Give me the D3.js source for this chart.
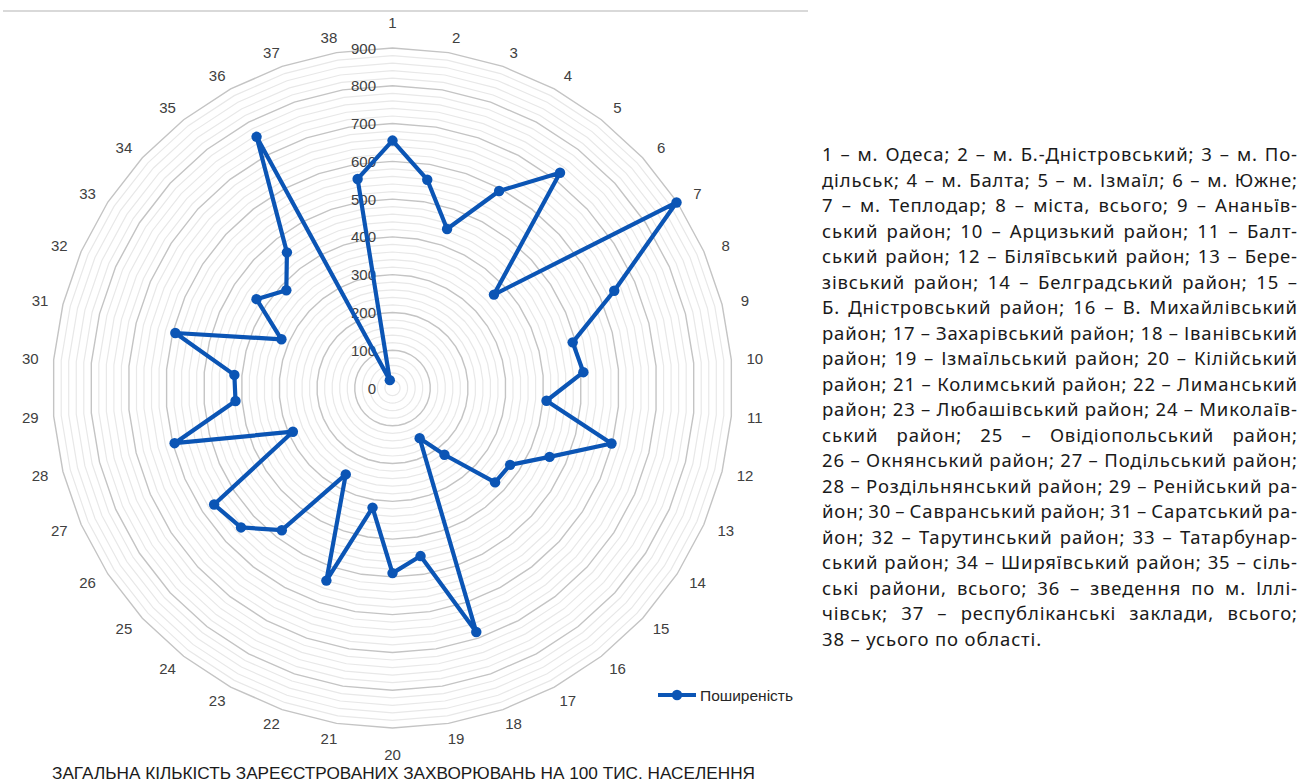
<!DOCTYPE html>
<html><head><meta charset="utf-8">
<script src="https://cdn.jsdelivr.net/npm/d3@7"></script>
<style>body{margin:0;background:#fff} svg{display:block}</style>
</head><body>
<svg id="c" width="1303" height="782"></svg>
<script>
const categories = ["1","2","3","4","5","6","7","8","9","10","11","12","13","14","15","16","17","18","19","20","21","22","23","24","25","26","27","28","29","30","31","32","33","34","35","36","37","38"];
const values = [655,559,445,593,722,365,898,641,492,507,409,598,454,372,369,224,151,683,451,490,321,539,260,477,545,564,288,595,417,420,593,321,430,382,455,756,22,561];
const seriesName = "Поширеність";
const tickValues = [0,100,200,300,400,500,600,700,800,900];
const minorStep = 20;
const chartTitle = "ЗАГАЛЬНА КІЛЬКІСТЬ ЗАРЕЄСТРОВАНИХ ЗАХВОРЮВАНЬ НА 100 ТИС. НАСЕЛЕННЯ";
const noteLines = [
"1 – м. Одеса; 2 – м. Б.-Дністровський; 3 – м. По-",
"дільськ; 4 – м. Балта; 5 – м. Ізмаїл; 6 – м. Южне;",
"7 – м. Теплодар; 8 – міста, всього; 9 – Ананьїв-",
"ський район; 10 – Арцизький район; 11 – Балт-",
"ський район; 12 – Біляївський район; 13 – Бере-",
"зівський район; 14 – Белградський район; 15 –",
"Б. Дністровський район; 16 – В. Михайлівський",
"район; 17 – Захарівський район; 18 – Іванівський",
"район; 19 – Ізмаїльський район; 20 – Кілійський",
"район; 21 – Колимський район; 22 – Лиманський",
"район; 23 – Любашівський район; 24 – Миколаїв-",
"ський район; 25 – Овідіопольський район;",
"26 – Окнянський район; 27 – Подільський район;",
"28 – Роздільнянський район; 29 – Ренійський ра-",
"йон; 30 – Савранський район; 31 – Саратський ра-",
"йон; 32 – Тарутинський район; 33 – Татарбунар-",
"ський район; 34 – Ширяївський район; 35 – сіль-",
"ські райони, всього; 36 – зведення по м. Іллі-",
"чівськ; 37 – республіканські заклади, всього;",
"38 – усього по області."
];

const svg = d3.select("#c");
const cx = 392.5, cy = 388, R = 340;
const rScale = d3.scaleLinear().domain([0, 900]).range([0, R]);
const aScale = d3.scaleLinear().domain([0, categories.length]).range([0, 2 * Math.PI]);

// top border line
svg.append("line").attr("x1", 3).attr("x2", 808).attr("y1", 11).attr("y2", 11)
  .attr("stroke", "#d9d9d9").attr("stroke-width", 2);

const g = svg.append("g").attr("transform", `translate(${cx},${cy})`);

// grid rings
const ringVals = d3.range(minorStep, 900 + 1, minorStep);
const ringLine = d3.lineRadial().curve(d3.curveLinearClosed)
  .angle((d, i) => aScale(i)).radius(d => rScale(d));
ringVals.filter(v => v % 100 !== 0).forEach(v => {
  g.append("path").attr("d", ringLine(categories.map(() => v)))
    .attr("fill", "none").attr("stroke", "#e8e8e8").attr("stroke-width", 1.2);
});
ringVals.filter(v => v % 100 === 0).forEach(v => {
  g.append("path").attr("d", ringLine(categories.map(() => v)))
    .attr("fill", "none").attr("stroke", "#c4c4c4").attr("stroke-width", 1.4);
});

// tick labels
g.selectAll("text.tick").data(tickValues).join("text")
  .attr("class", "tick")
  .attr("x", -16.5).attr("y", d => -rScale(d))
  .attr("text-anchor", "end").attr("dominant-baseline", "central")
  .attr("font-family", "Liberation Sans, Arial, sans-serif").attr("font-size", 15)
  .attr("fill", "#404040").text(d => d);

// category labels (box anchored outward from the outer ring)
const sgn = v => Math.abs(v) < 1e-6 ? 0 : Math.sign(v);
g.selectAll("text.cat").data(categories).join("text")
  .attr("class", "cat")
  .attr("x", (d, i) => { const s = Math.sin(aScale(i)); return (R + 19) * s + 4.5 * sgn(s); })
  .attr("y", (d, i) => { const s = Math.sin(aScale(i)), c = Math.cos(aScale(i));
      return -(sgn(s) === 0 ? (R + 26) * c : (R + 15) * c); })
  .attr("text-anchor", "middle").attr("dominant-baseline", "central")
  .attr("font-family", "Liberation Sans, Arial, sans-serif").attr("font-size", 15)
  .attr("fill", "#404040").text(d => d);

// series
const color = "#0b55b5";
const seriesLine = d3.lineRadial().curve(d3.curveLinearClosed)
  .angle((d, i) => aScale(i)).radius(d => rScale(d));
g.append("path").attr("d", seriesLine(values))
  .attr("fill", "none").attr("stroke", color).attr("stroke-width", 4.2)
  .attr("stroke-linejoin", "round");
g.selectAll("circle.pt").data(values).join("circle")
  .attr("class", "pt")
  .attr("cx", (d, i) => rScale(d) * Math.sin(aScale(i)))
  .attr("cy", (d, i) => -rScale(d) * Math.cos(aScale(i)))
  .attr("r", 5.2).attr("fill", color);

// legend
const lg = svg.append("g").attr("transform", "translate(658,695)");
lg.append("line").attr("x1", 0).attr("x2", 38).attr("y1", 0).attr("y2", 0)
  .attr("stroke", color).attr("stroke-width", 4.2);
lg.append("circle").attr("cx", 19).attr("cy", 0).attr("r", 5.2).attr("fill", color);
lg.append("text").attr("x", 42).attr("y", 0).attr("dominant-baseline", "central")
  .attr("font-family", "Liberation Sans, Arial, sans-serif").attr("font-size", 15.5)
  .attr("fill", "#262626").text(seriesName);

// title
svg.append("text").attr("x", 403.5).attr("y", 779)
  .attr("text-anchor", "middle")
  .attr("font-family", "Liberation Sans Narrow, Liberation Sans, Arial, sans-serif")
  .attr("font-size", 17).attr("fill", "#1a1a1a")
  .attr("textLength", 703).attr("lengthAdjust", "spacingAndGlyphs")
  .text(chartTitle);

// note text, justified
const noteX = 822, noteW = 475, noteY0 = 161, noteDy = 25.5, lastLineW = 220;
const noteFont = { family: "Noto Sans, Open Sans, sans-serif", size: 18.5 };
const probe = svg.append("text").attr("font-family", noteFont.family)
  .attr("font-size", noteFont.size).text(noteLines[noteLines.length - 1]);
const natLast = probe.node().getComputedTextLength();
probe.remove();
const lastChars = noteLines[noteLines.length - 1].length;
const letterSp = (lastLineW - natLast) / lastChars;
noteLines.forEach((line, i) => {
  const t = svg.append("text").attr("x", noteX).attr("y", noteY0 + i * noteDy)
    .attr("font-family", noteFont.family).attr("font-size", noteFont.size)
    .attr("letter-spacing", letterSp)
    .attr("fill", "#1a1a1a").text(line);
  if (i < noteLines.length - 1) {
    const len = t.node().getComputedTextLength() - letterSp; // trailing spacing
    const spaces = (line.match(/ /g) || []).length;
    if (spaces > 0) t.attr("word-spacing", (noteW - len) / spaces);
  }
});
</script>
</body></html>
